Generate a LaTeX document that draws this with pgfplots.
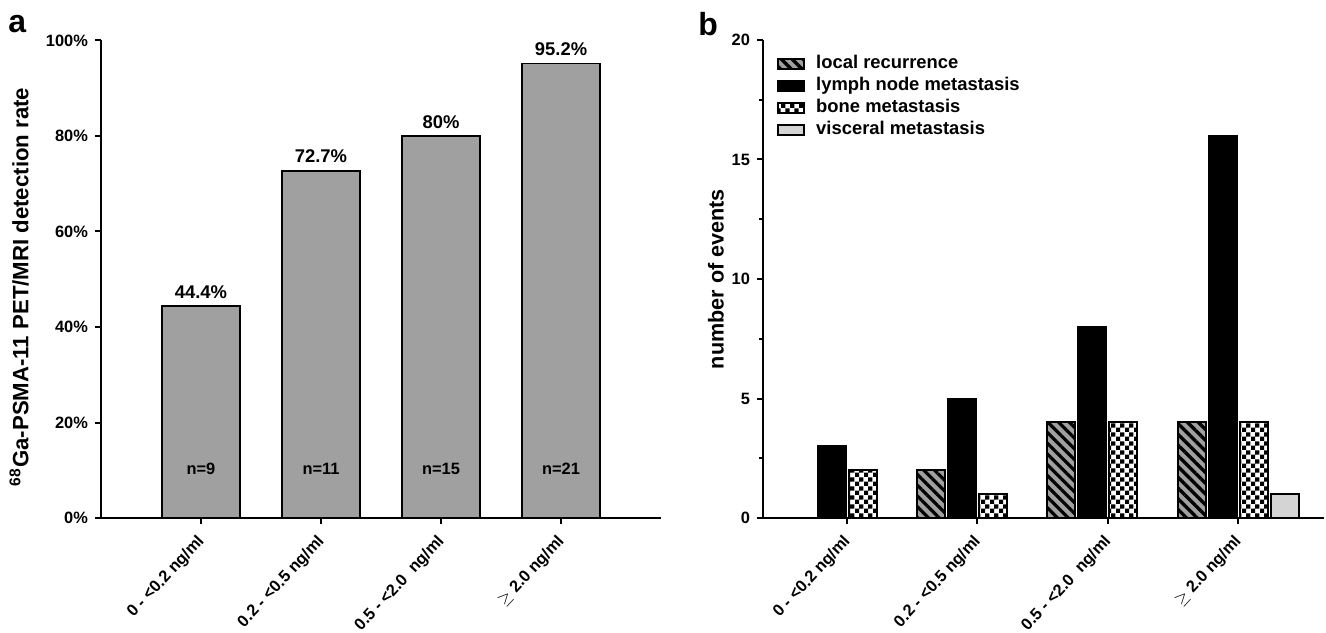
\documentclass[border=0pt]{standalone}
\usepackage{fontspec}
\setmainfont{Liberation Sans}
\usepackage{pgfplots}
\pgfplotsset{compat=1.18}
\usetikzlibrary{patterns,patterns.meta}
\definecolor{bargray}{HTML}{A0A0A0}
\definecolor{lightgr}{HTML}{D4D4D4}
\pgfdeclarepattern{
  name=mychecker, type=uncolored,
  bottom left={\pgfpoint{0pt}{0pt}}, top right={\pgfpoint{4.6pt}{4.6pt}},
  tile size={\pgfpoint{4.6pt}{4.6pt}},
  code={
    \pgfpathrectangle{\pgfpointorigin}{\pgfpoint{2.3pt}{2.3pt}}
    \pgfpathrectangle{\pgfpoint{2.3pt}{2.3pt}}{\pgfpoint{2.3pt}{2.3pt}}
    \pgfusepath{fill}
  }
}
\pgfplotsset{
  myaxis/.style={
    scale only axis,
    anchor=south west,
    axis x line*=bottom, axis y line*=left,
    axis line style={line width=1pt},
    tick align=outside,
    major tick length=3pt, minor tick length=1.8pt,
    every tick/.style={line width=1pt, black},
    minor tick style={line width=1pt, black},
    tick label style={font=\fontsize{8.2}{9}\selectfont\bfseries},
    /pgf/number format/assume math mode=true,
    ymin=0,
    xtick={0,1,2,3},
    xticklabels={0 - <0.2 ng/ml, 0.2 - <0.5 ng/ml, 0.5 - <2.0~~ng/ml, {$\geq$ 2.0 ng/ml}},
    xticklabel style={xshift=-2.5pt, yshift=-4.5pt, rotate=47, anchor=north east, inner sep=0pt},
    clip=false,
  },
  myleg/.style={legend image code/.code={\draw[##1, line width=0.9pt] (0pt,-2.5pt) rectangle (13pt,2.5pt);}},
}
\begin{document}
\begin{tikzpicture}
\node[anchor=base west, font=\fontsize{16}{16}\selectfont\bfseries, inner sep=0pt] at (4pt,299.5pt) {a};
\node[anchor=base west, font=\fontsize{16}{16}\selectfont\bfseries, inner sep=0pt] at (349pt,298pt) {b};

\begin{axis}[myaxis, at={(50.5pt,57pt)}, width=280pt, height=238.75pt,
  xmin=-0.833, xmax=3.833, ymax=100,
  ytick={0,20,...,100}, yticklabels={0\%,20\%,40\%,60\%,80\%,100\%},
  ybar, bar width=39pt,
  ylabel={\textsuperscript{68}Ga-PSMA-11 PET/MRI detection rate},
  ylabel style={at={(axis description cs:-0.146,0.484)}, anchor=center, font=\fontsize{11.1}{13}\selectfont\bfseries},
]
\addplot[fill=bargray, draw=black, line width=0.8pt,
  nodes near coords={\pgfmathprintnumber{\pgfplotspointmeta}\%},
  nodes near coords style={font=\fontsize{9.2}{10}\selectfont\bfseries, anchor=south, inner sep=0pt, yshift=3.5pt}]
  coordinates {(0,44.4) (1,72.7) (2,80) (3,95.2)};
\node[font=\fontsize{8.2}{9}\selectfont\bfseries] at (axis cs:0,10.3) {n=9};
\node[font=\fontsize{8.2}{9}\selectfont\bfseries] at (axis cs:1,10.3) {n=11};
\node[font=\fontsize{8.2}{9}\selectfont\bfseries] at (axis cs:2,10.3) {n=15};
\node[font=\fontsize{8.2}{9}\selectfont\bfseries] at (axis cs:3,10.3) {n=21};
\end{axis}

\begin{axis}[myaxis, at={(381.5pt,57pt)}, width=280.5pt, height=239pt,
  xmin=-0.645, xmax=3.66, ymax=20,
  ytick={0,5,...,20}, yticklabels={0,5,10,15,20}, minor ytick={2.5,7.5,12.5,17.5},
  ybar=1.5pt, bar width=14pt,
  ylabel={number of events},
  ylabel style={at={(axis description cs:-0.0838,0.5)}, anchor=center, font=\fontsize{10.8}{12}\selectfont\bfseries},
  legend style={at={(axis description cs:0.025,0.974)}, anchor=north west, draw=none, fill=none,
    font=\fontsize{9.2}{11}\selectfont\bfseries, row sep=0pt, inner sep=0pt, column sep=4.5pt,
    nodes={inner sep=1pt, text height=6.8pt, text depth=2.2pt}},
  legend cell align=left,
]
\addplot[myleg, draw=black, line width=1pt, preaction={fill=bargray}, pattern={Lines[angle=-45, distance=3.8pt, line width=1.6pt]}, pattern color=black]
  coordinates {(1,2) (2,4) (3,4)};
\addplot[myleg, draw=black, fill=black, line width=1pt]
  coordinates {(0,3) (1,5) (2,8) (3,16)};
\addplot[myleg, draw=black, line width=1pt, preaction={fill=white}, pattern=mychecker, pattern color=black]
  coordinates {(0,2) (1,1) (2,4) (3,4)};
\addplot[myleg, draw=black, fill=lightgr, line width=1pt]
  coordinates {(3,1)};
\legend{local recurrence, lymph node metastasis, bone metastasis, visceral metastasis}
\end{axis}
\pgfresetboundingbox
\path[use as bounding box] (0pt,0pt) rectangle (663pt,316pt);
\end{tikzpicture}
\end{document}
